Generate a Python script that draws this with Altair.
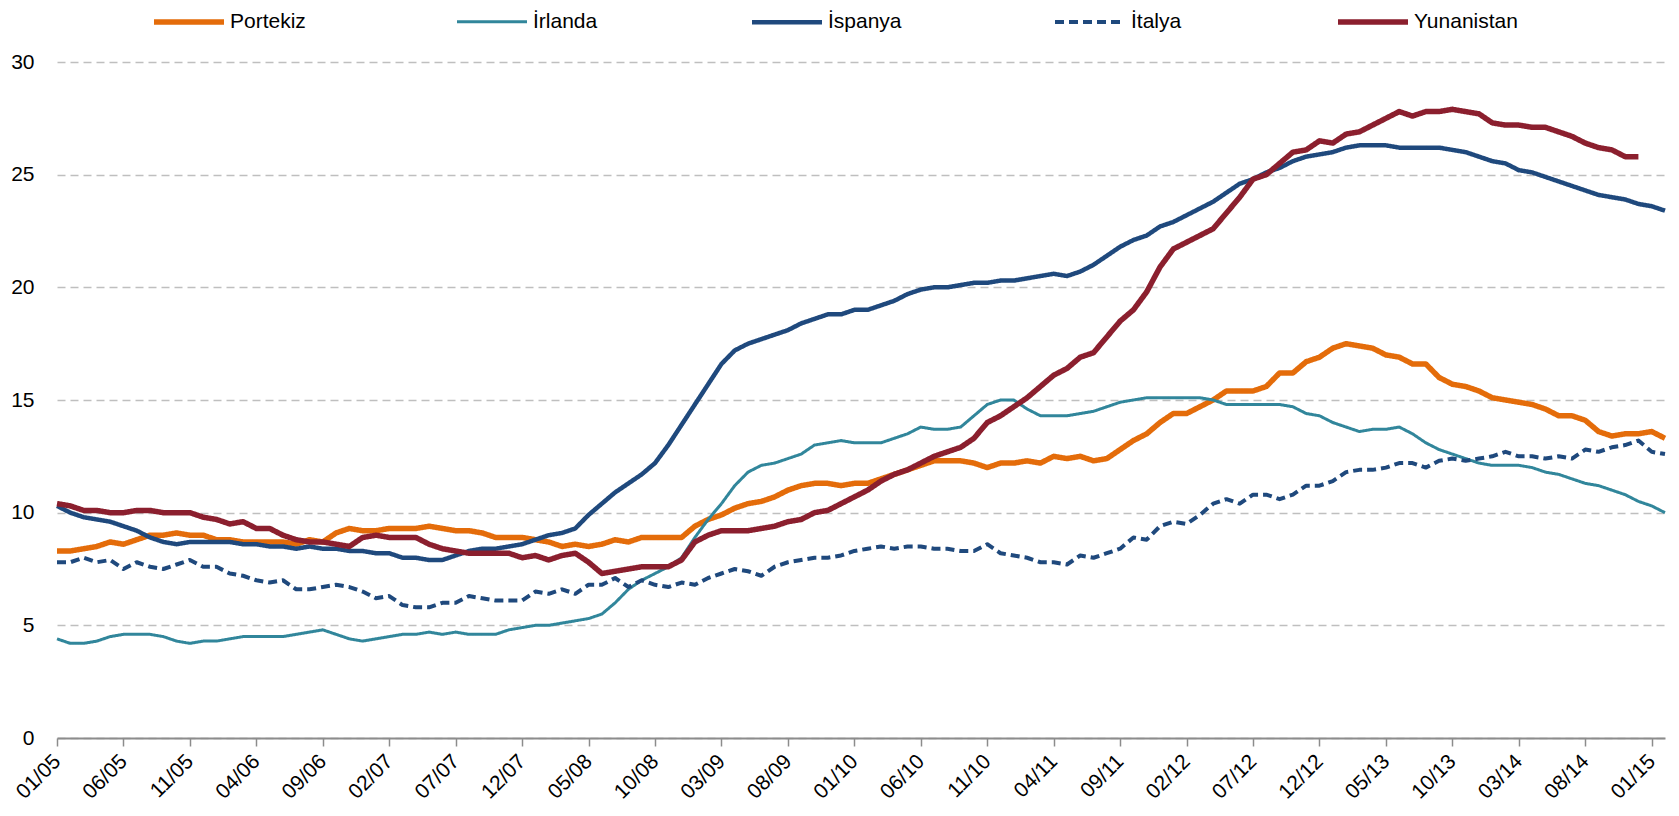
import altair as alt
import pandas as pd

FONT = "Liberation Sans"

# monthly categories 01/05 .. 02/15
months = [f"{m:02d}/{y:02d}" for y in range(5, 16) for m in range(1, 13)][:122]

tick_labels = ["01/05", "06/05", "11/05", "04/06", "09/06", "02/07", "07/07", "12/07",
               "05/08", "10/08", "03/09", "08/09", "01/10", "06/10", "11/10", "04/11",
               "09/11", "02/12", "07/12", "12/12", "05/13", "10/13", "03/14", "08/14", "01/15"]

y_ticks = [0, 5, 10, 15, 20, 25, 30]

countries = ["Portekiz", "İrlanda", "İspanya", "İtalya", "Yunanistan"]
colors = ["#E46C0A", "#31869B", "#1F497D", "#1F497D", "#8B1F2E"]
widths = [5.5, 3, 4.5, 4, 5.5]
dashes = [[1, 0], [1, 0], [1, 0], [9, 5], [1, 0]]

portekiz = [8.3, 8.3, 8.4, 8.5, 8.7, 8.6, 8.8, 9.0, 9.0, 9.1, 9.0, 9.0, 8.8, 8.8, 8.7, 8.7,
            8.7, 8.7, 8.6, 8.8, 8.7, 9.1, 9.3, 9.2, 9.2, 9.3,
            9.3, 9.3, 9.4, 9.3, 9.2, 9.2, 9.1, 8.9, 8.9, 8.9, 8.8, 8.7, 8.5, 8.6, 8.5, 8.6,
            8.8, 8.7, 8.9, 8.9, 8.9, 8.9, 9.4, 9.7,
            9.9, 10.2, 10.4, 10.5, 10.7, 11.0, 11.2, 11.3, 11.3, 11.2, 11.3,
            11.3, 11.5, 11.7, 11.9, 12.1,
            12.3, 12.3, 12.3, 12.2, 12.0, 12.2, 12.2, 12.3, 12.2, 12.5, 12.4, 12.5, 12.3,
            12.4, 12.8, 13.2, 13.5, 14.0, 14.4, 14.4, 14.7,
            15.0, 15.4, 15.4, 15.4, 15.6, 16.2, 16.2, 16.7, 16.9, 17.3, 17.5, 17.4, 17.3,
            17.0, 16.9, 16.6, 16.6,
            16.0, 15.7, 15.6, 15.4, 15.1, 15.0, 14.9, 14.8, 14.6, 14.3, 14.3, 14.1, 13.6,
            13.4, 13.5, 13.5, 13.6, 13.3]

irlanda = [4.4, 4.2, 4.2, 4.3, 4.5, 4.6, 4.6, 4.6, 4.5, 4.3, 4.2, 4.3, 4.3, 4.4, 4.5, 4.5,
           4.5, 4.5, 4.6, 4.7, 4.8, 4.6, 4.4, 4.3, 4.4, 4.5,
           4.6, 4.6, 4.7, 4.6, 4.7, 4.6, 4.6, 4.6, 4.8, 4.9, 5.0, 5.0, 5.1, 5.2, 5.3, 5.5,
           6.0, 6.6, 7.0, 7.3, 7.6, 8.0, 8.9, 9.7,
           10.4, 11.2, 11.8, 12.1, 12.2, 12.4, 12.6, 13.0, 13.1, 13.2, 13.1,
           13.1, 13.1, 13.3, 13.5, 13.8, 13.7, 13.7, 13.8, 14.3, 14.8, 15.0, 15.0, 14.6,
           14.3, 14.3, 14.3, 14.4, 14.5, 14.7, 14.9, 15.0, 15.1, 15.1, 15.1, 15.1, 15.1,
           15.0, 14.8, 14.8, 14.8, 14.8, 14.8, 14.7, 14.4, 14.3, 14.0, 13.8, 13.6, 13.7,
           13.7, 13.8, 13.5, 13.1,
           12.8, 12.6, 12.4, 12.2, 12.1, 12.1, 12.1, 12.0, 11.8, 11.7, 11.5, 11.3, 11.2,
           11.0, 10.8, 10.5, 10.3, 10.0]

ispanya = [10.3, 10.0, 9.8, 9.7, 9.6, 9.4, 9.2, 8.9, 8.7, 8.6, 8.7, 8.7, 8.7, 8.7, 8.6, 8.6,
           8.5, 8.5, 8.4, 8.5, 8.4, 8.4, 8.3, 8.3, 8.2, 8.2,
           8.0, 8.0, 7.9, 7.9, 8.1, 8.3, 8.4, 8.4, 8.5, 8.6, 8.8, 9.0, 9.1, 9.3, 9.9, 10.4,
           10.9, 11.3, 11.7, 12.2, 13.0, 13.9, 14.8, 15.7,
           16.6, 17.2, 17.5, 17.7, 17.9, 18.1, 18.4, 18.6, 18.8, 18.8, 19.0,
           19.0, 19.2, 19.4, 19.7, 19.9, 20.0, 20.0, 20.1, 20.2, 20.2, 20.3, 20.3, 20.4,
           20.5, 20.6, 20.5, 20.7, 21.0, 21.4, 21.8, 22.1, 22.3, 22.7, 22.9, 23.2, 23.5,
           23.8, 24.2, 24.6, 24.8, 25.1, 25.3, 25.6, 25.8, 25.9, 26.0, 26.2, 26.3, 26.3,
           26.3, 26.2, 26.2, 26.2,
           26.2, 26.1, 26.0, 25.8, 25.6, 25.5, 25.2, 25.1, 24.9, 24.7, 24.5, 24.3, 24.1,
           24.0, 23.9, 23.7, 23.6, 23.4]

italya = [7.8, 7.8, 8.0, 7.8, 7.9, 7.5, 7.8, 7.6, 7.5, 7.7, 7.9, 7.6, 7.6, 7.3, 7.2, 7.0,
          6.9, 7.0, 6.6, 6.6, 6.7, 6.8, 6.7, 6.5, 6.2, 6.3,
          5.9, 5.8, 5.8, 6.0, 6.0, 6.3, 6.2, 6.1, 6.1, 6.1, 6.5, 6.4, 6.6, 6.4, 6.8, 6.8,
          7.1, 6.7, 7.0, 6.8, 6.7, 6.9, 6.8, 7.1,
          7.3, 7.5, 7.4, 7.2, 7.6, 7.8, 7.9, 8.0, 8.0, 8.1, 8.3,
          8.4, 8.5, 8.4, 8.5, 8.5, 8.4, 8.4, 8.3, 8.3, 8.6, 8.2, 8.1, 8.0, 7.8, 7.8, 7.7,
          8.1, 8.0, 8.2, 8.4, 8.9, 8.8, 9.4, 9.6, 9.5, 9.9,
          10.4, 10.6, 10.4, 10.8, 10.8, 10.6, 10.8, 11.2, 11.2, 11.4, 11.8, 11.9, 11.9,
          12.0, 12.2, 12.2, 12.0,
          12.3, 12.4, 12.3, 12.4, 12.5, 12.7, 12.5, 12.5, 12.4, 12.5, 12.4, 12.8, 12.7,
          12.9, 13.0, 13.2, 12.7, 12.6]

yunanistan = [10.4, 10.3, 10.1, 10.1, 10.0, 10.0, 10.1, 10.1, 10.0, 10.0, 10.0, 9.8, 9.7,
              9.5, 9.6, 9.3, 9.3, 9.0, 8.8, 8.7, 8.7, 8.6, 8.5, 8.9, 9.0, 8.9,
              8.9, 8.9, 8.6, 8.4, 8.3, 8.2, 8.2, 8.2, 8.2, 8.0, 8.1, 7.9, 8.1, 8.2, 7.8, 7.3,
              7.4, 7.5, 7.6, 7.6, 7.6, 7.9, 8.7, 9.0,
              9.2, 9.2, 9.2, 9.3, 9.4, 9.6, 9.7, 10.0, 10.1, 10.4, 10.7,
              11.0, 11.4, 11.7, 11.9, 12.2, 12.5, 12.7, 12.9, 13.3, 14.0, 14.3, 14.7, 15.1,
              15.6, 16.1, 16.4, 16.9, 17.1, 17.8, 18.5, 19.0, 19.8, 20.9, 21.7, 22.0, 22.3,
              22.6, 23.3, 24.0, 24.8, 25.0, 25.5, 26.0, 26.1, 26.5, 26.4, 26.8, 26.9, 27.2,
              27.5, 27.8, 27.6, 27.8,
              27.8, 27.9, 27.8, 27.7, 27.3, 27.2, 27.2, 27.1, 27.1, 26.9, 26.7, 26.4, 26.2,
              26.1, 25.8, 25.8]

series = [portekiz, irlanda, ispanya, italya, yunanistan]

rows = []
for name, vals in zip(countries, series):
    for m, v in zip(months, vals):
        rows.append({"ay": m, "oran": v, "ulke": name})
df = pd.DataFrame(rows)

legend = alt.Legend(
    title=None, orient="none", legendX=94, legendY=-78, direction="horizontal",
    columns=5, symbolType="stroke", symbolSize=4900, labelFont=FONT,
    labelFontSize=21, labelColor="#000000", labelOffset=3, columnPadding=145,
    labelLimit=300,
)

chart = alt.Chart(df).mark_line(strokeJoin="round").encode(
    x=alt.X("ay:O", sort=months, scale=alt.Scale(type="point", padding=0),
            axis=alt.Axis(values=tick_labels, labelAngle=-45, labelAlign="right",
                          labelBaseline="middle", title=None, grid=False, ticks=True,
                          tickSize=8, tickColor="#8C8C8C", tickWidth=1.5,
                          domainColor="#8C8C8C", domainWidth=2, labelFont=FONT,
                          labelFontSize=21, labelColor="#000000", labelPadding=12,
                          labelOverlap=False)),
    y=alt.Y("oran:Q", scale=alt.Scale(domain=[0, 30], nice=False),
            axis=alt.Axis(values=y_ticks, title=None, domain=False, ticks=False,
                          gridDash=[8, 5], gridColor="#BFBFBF", gridWidth=1.5,
                          labelPadding=23, labelFont=FONT, labelFontSize=21,
                          labelColor="#000000")),
    color=alt.Color("ulke:N", scale=alt.Scale(domain=countries, range=colors), legend=legend),
    strokeDash=alt.StrokeDash("ulke:N", scale=alt.Scale(domain=countries, range=dashes),
                              legend=legend),
    strokeWidth=alt.StrokeWidth("ulke:N", scale=alt.Scale(type="ordinal", domain=countries,
                                                          range=widths), legend=legend),
).properties(
    width=1608, height=676,
    autosize=alt.AutoSizeParams(type="none"),
    padding={"left": 49, "top": 54, "right": 5, "bottom": 66},
).configure_view(stroke=None)

chart.save("out.html", embed_options={"renderer": "svg", "actions": False})
